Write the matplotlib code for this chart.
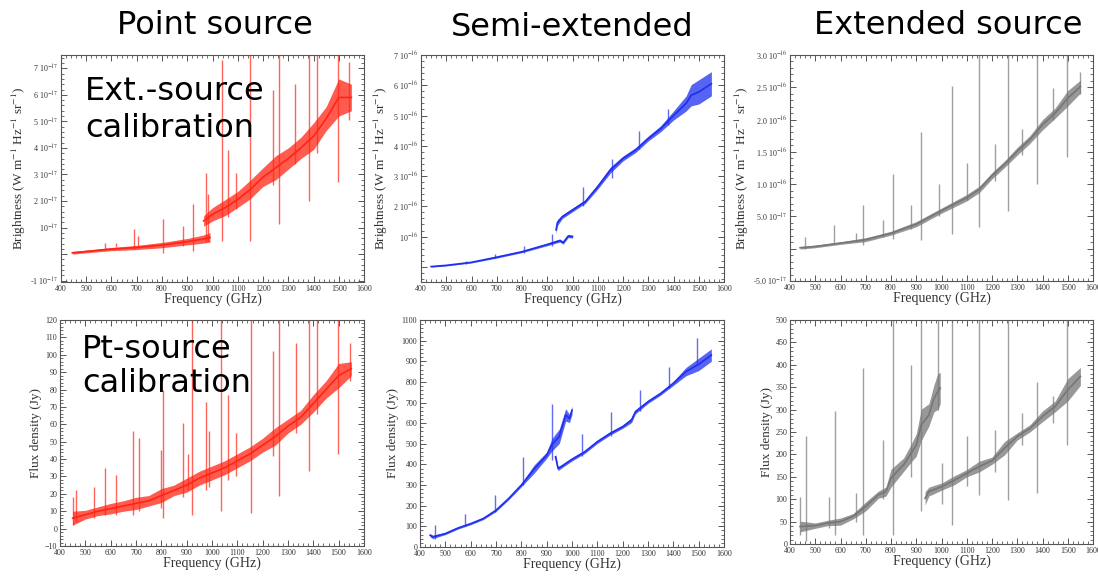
import matplotlib
matplotlib.use("Agg")
import matplotlib.pyplot as plt
from matplotlib.ticker import AutoMinorLocator, FixedLocator, FixedFormatter

plt.rcParams["font.family"] = ["Liberation Serif", "DejaVu Serif"]
plt.rcParams["mathtext.fontset"] = "stix"

RED = "#ff2414"
BLUE = "#1f2ff0"
GRAY = "#767676"

# ---------------- Point source, brightness (units 1e-17) ----------------
pb_f1 = [445, 500, 600, 700, 800, 900, 960, 990]
pb_v1 = [0.05, 0.10, 0.19, 0.25, 0.34, 0.47, 0.56, 0.63]
pb_w1 = [0.05, 0.05, 0.06, 0.08, 0.10, 0.12, 0.15, 0.18]
pb_f2 = [965, 1000, 1050, 1100, 1150, 1200, 1250, 1300, 1350, 1400, 1450, 1500, 1550]
pb_v2 = [1.25, 1.50, 1.75, 2.06, 2.44, 2.90, 3.25, 3.60, 4.00, 4.44, 5.10, 5.90, 5.90]
pb_w2 = [0.20, 0.25, 0.30, 0.30, 0.35, 0.35, 0.45, 0.40, 0.40, 0.50, 0.45, 0.70, 0.50]
pb_sf = [574, 618, 689, 706, 805, 884, 921, 973, 983, 1036, 1062, 1095,
         1150, 1240, 1264, 1326, 1383, 1414, 1497, 1541]
pb_top = [0.41, 0.43, 0.94, 0.69, 1.31, 1.06, 1.87, 3.06, 2.25, 7.30, 3.94, 3.06,
          7.60, 6.20, 7.60, 6.40, 7.60, 7.60, 7.60, 7.25]
pb_bot = [0.20, 0.25, 0.20, 0.25, 0.05, 0.30, 0.12, 0.45, 0.50, 0.50, 1.40, 1.70,
          0.50, 2.60, 1.12, 3.40, 2.00, 3.80, 2.70, 5.06]

# ---------------- Semi-extended, brightness (units 1e-16) ----------------
sb_f1 = [440, 500, 600, 700, 800, 900, 950, 963, 983, 1000]
sb_v1 = [0.01, 0.05, 0.15, 0.32, 0.50, 0.74, 0.87, 0.80, 1.02, 1.00]
sb_w1 = [0.02, 0.02, 0.02, 0.03, 0.03, 0.04, 0.05, 0.05, 0.05, 0.05]
sb_f2 = [935, 940, 960, 1000, 1040, 1050, 1100, 1150, 1200, 1250, 1300,
         1350, 1400, 1450, 1470, 1500, 1550]
sb_v2 = [1.22, 1.46, 1.66, 1.88, 2.10, 2.15, 2.65, 3.20, 3.58, 3.86, 4.24,
         4.57, 5.00, 5.40, 5.67, 5.78, 6.05]
sb_w2 = [0.12, 0.10, 0.06, 0.06, 0.06, 0.06, 0.08, 0.10, 0.08, 0.08, 0.08,
         0.10, 0.15, 0.25, 0.35, 0.40, 0.40]
sb_sf = [580, 695, 808, 920, 1040, 1155, 1265, 1380]
sb_top = [0.18, 0.42, 0.69, 1.07, 2.65, 3.58, 4.50, 5.20]
sb_bot = [0.10, 0.28, 0.45, 0.70, 2.00, 2.95, 3.90, 4.70]

# ---------------- Extended source, brightness (units 1e-16) ----------------
eb_f = [440, 500, 600, 700, 800, 900, 1000, 1100, 1150, 1200, 1250, 1300,
        1350, 1400, 1450, 1500, 1550]
eb_v = [0.015, 0.035, 0.087, 0.14, 0.24, 0.38, 0.59, 0.79, 0.92, 1.13, 1.31,
        1.51, 1.69, 1.92, 2.10, 2.33, 2.51]
eb_w = [0.02, 0.02, 0.02, 0.03, 0.03, 0.04, 0.04, 0.05, 0.05, 0.05, 0.05,
        0.06, 0.06, 0.08, 0.08, 0.12, 0.10]
eb_sf = [460, 575, 660, 690, 770, 808, 880, 920, 990, 1040, 1100, 1150,
         1210, 1265, 1320, 1380, 1440, 1497, 1550]
eb_top = [0.18, 0.37, 0.24, 0.68, 0.44, 1.15, 0.67, 1.81, 1.00, 2.52, 1.33,
          3.05, 1.62, 3.05, 1.86, 3.05, 2.49, 3.05, 2.74]
eb_bot = [0.00, 0.07, 0.10, 0.05, 0.18, 0.15, 0.30, 0.13, 0.50, 0.23, 0.75,
          0.34, 1.05, 0.59, 1.45, 1.00, 2.00, 1.42, 2.40]

# ---------------- Point source, flux density (Jy) ----------------
pf_f = [450, 500, 550, 600, 650, 700, 750, 800, 850, 900, 950, 1000, 1050,
        1100, 1150, 1200, 1250, 1300, 1350, 1400, 1450, 1500, 1550]
pf_v = [6, 8, 10, 11.5, 13, 14.5, 16, 19, 22, 25, 29, 32, 35, 39, 43, 48,
        53, 59, 64, 72, 80, 88, 92]
pf_w = [4, 2.5, 2.5, 3, 3, 3.5, 3, 4, 3, 4, 4, 4, 4, 4, 4, 4, 5, 4, 4, 5, 5, 7, 4]
pf_sf = [452, 462, 533, 577, 620, 690, 710, 800, 808, 885, 905, 922, 975,
         990, 1036, 1062, 1095, 1152, 1240, 1265, 1330, 1383, 1415, 1497, 1545]
pf_top = [18, 22, 24, 35, 31, 56, 52, 45, 80, 61, 43, 122, 73, 56, 122, 77,
          55, 122, 102, 122, 107, 122, 122, 122, 107]
pf_bot = [2, 4, 6, 8, 8, 8, 10, 12, 6, 18, 22, 8, 22, 24, 10, 28, 30, 9, 42,
          19, 55, 33, 66, 43, 85]

# ---------------- Semi-extended, flux density (Jy) ----------------
sf_f1 = [440, 450, 500, 550, 600, 650, 700, 750, 800, 850, 900, 920, 950,
         975, 990, 1000]
sf_v1 = [57, 49, 65, 92, 113, 138, 178, 235, 300, 377, 445, 494, 537, 640,
         623, 663]
sf_w1 = [8, 8, 5, 5, 5, 5, 6, 6, 8, 20, 15, 30, 35, 30, 20, 20]
sf_f2 = [935, 945, 960, 1000, 1050, 1100, 1150, 1200, 1235, 1250, 1300,
         1350, 1400, 1450, 1500, 1550]
sf_v2 = [437, 380, 392, 425, 461, 510, 550, 583, 615, 655, 704, 744, 793,
         850, 885, 930]
sf_w2 = [15, 10, 8, 8, 8, 8, 8, 8, 12, 10, 8, 8, 10, 20, 30, 30]
sf_sf = [460, 577, 695, 808, 922, 1040, 1155, 1268, 1383, 1495]
sf_top = [105, 162, 251, 437, 693, 550, 655, 760, 874, 1015]
sf_bot = [40, 100, 170, 300, 420, 440, 540, 660, 770, 880]

# ---------------- Extended source, flux density (Jy) ----------------
ef_f1 = [440, 500, 550, 600, 650, 700, 750, 780, 800, 850, 880, 900, 920,
         950, 970, 985, 995]
ef_v1 = [39, 41, 47, 50, 62, 84, 110, 117, 147, 177, 203, 221, 266, 288,
         325, 340, 348]
ef_w1 = [12, 6, 6, 8, 6, 10, 8, 10, 20, 15, 20, 25, 35, 25, 30, 40, 35]
ef_f2 = [935, 950, 1000, 1050, 1100, 1150, 1200, 1250, 1300, 1350, 1400,
         1450, 1500, 1550]
ef_v2 = [102, 117, 128, 142, 158, 173, 186, 214, 240, 258, 285, 307, 344, 374]
ef_w2 = [15, 10, 8, 10, 8, 12, 8, 15, 8, 8, 12, 12, 25, 20]
ef_sf = [440, 462, 555, 578, 662, 690, 770, 808, 880, 920, 985, 1000, 1040,
         1100, 1150, 1210, 1265, 1320, 1380, 1440, 1497]
ef_top = [104, 240, 104, 297, 114, 392, 233, 505, 400, 505, 505, 180, 505,
          240, 505, 255, 505, 292, 362, 330, 505]
ef_bot = [20, 6, 35, 20, 50, 21, 100, 21, 150, 73, 300, 90, 43, 130, 110,
          160, 99, 220, 114, 270, 221]

# ---------------- tick labels ----------------
pb_ticks = [-1, 0, 1, 2, 3, 4, 5, 6, 7]
pb_labels = ["-1 10$^{-17}$", "", "10$^{-17}$", "2 10$^{-17}$", "3 10$^{-17}$",
             "4 10$^{-17}$", "5 10$^{-17}$", "6 10$^{-17}$", "7 10$^{-17}$"]
sb_ticks = [0, 1, 2, 3, 4, 5, 6, 7]
sb_labels = ["", "10$^{-16}$", "2 10$^{-16}$", "3 10$^{-16}$", "4 10$^{-16}$",
             "5 10$^{-16}$", "6 10$^{-16}$", "7 10$^{-16}$"]
eb_ticks = [-0.5, 0, 0.5, 1.0, 1.5, 2.0, 2.5, 3.0]
eb_labels = ["-5.0 10$^{-17}$", "", "5.0 10$^{-17}$", "1.0 10$^{-16}$",
             "1.5 10$^{-16}$", "2.0 10$^{-16}$", "2.5 10$^{-16}$", "3.0 10$^{-16}$"]

BRIGHT_LABEL = "Brightness (W m$^{-1}$ Hz$^{-1}$ sr$^{-1}$)"
FLUX_LABEL = "Flux density (Jy)"

W, H = 1098, 578


def px_axes(fig, left, top, right, bottom):
    return fig.add_axes([left / W, 1 - bottom / H, (right - left) / W, (bottom - top) / H])


def spectrum(ax, f, v, w, color):
    lo = [a - b for a, b in zip(v, w)]
    hi = [a + b for a, b in zip(v, w)]
    ax.fill_between(f, lo, hi, color=color, alpha=0.75, lw=0)
    ax.plot(f, v, color=color, lw=1.2)


def spikes(ax, f, top, bot, color):
    ax.vlines(f, bot, top, color=color, lw=1.0, alpha=0.7)


def style(ax, ylim, ylabel, yticks=None, ylabels=None, ystep=None):
    ax.set_xlim(400, 1600)
    ax.set_ylim(*ylim)
    ax.set_xticks(range(400, 1601, 100))
    ax.xaxis.set_minor_locator(AutoMinorLocator(5))
    if yticks is not None:
        ax.yaxis.set_major_locator(FixedLocator(yticks))
        ax.yaxis.set_major_formatter(FixedFormatter(ylabels))
    else:
        ax.set_yticks(range(int(ylim[0]), int(ylim[1]) + 1, ystep))
    ax.yaxis.set_minor_locator(AutoMinorLocator(5))
    ax.tick_params(which="both", direction="in", top=True, right=True,
                   labelsize=5.8, colors="#555555", labelcolor="#333333", pad=2)
    ax.tick_params(which="major", length=4, width=0.7)
    ax.tick_params(which="minor", length=2, width=0.6)
    for s in ax.spines.values():
        s.set_color("#555555")
        s.set_linewidth(0.8)
    ax.set_xlabel("Frequency (GHz)", fontsize=10, color="#333333", labelpad=0)
    ax.set_ylabel(ylabel, fontsize=9.5, color="#333333", labelpad=2)


fig = plt.figure(figsize=(W / 100, H / 100), dpi=100)

ax = px_axes(fig, 61, 55, 364, 282)
spectrum(ax, pb_f1, pb_v1, pb_w1, RED)
spectrum(ax, pb_f2, pb_v2, pb_w2, RED)
spikes(ax, pb_sf, pb_top, pb_bot, RED)
style(ax, (-1.05, 7.5), BRIGHT_LABEL, pb_ticks, pb_labels)

ax = px_axes(fig, 421, 55, 724, 282)
spectrum(ax, sb_f1, sb_v1, sb_w1, BLUE)
spectrum(ax, sb_f2, sb_v2, sb_w2, BLUE)
spikes(ax, sb_sf, sb_top, sb_bot, BLUE)
style(ax, (-0.5, 7.0), BRIGHT_LABEL, sb_ticks, sb_labels)

ax = px_axes(fig, 790, 55, 1093, 281)
spectrum(ax, eb_f, eb_v, eb_w, GRAY)
spikes(ax, eb_sf, eb_top, eb_bot, GRAY)
style(ax, (-0.5, 3.0), BRIGHT_LABEL, eb_ticks, eb_labels)

ax = px_axes(fig, 60, 320, 364, 546)
spectrum(ax, pf_f, pf_v, pf_w, RED)
spikes(ax, pf_sf, pf_top, pf_bot, RED)
style(ax, (-10, 120), FLUX_LABEL, ystep=10)

ax = px_axes(fig, 420, 320, 724, 547)
spectrum(ax, sf_f1, sf_v1, sf_w1, BLUE)
spectrum(ax, sf_f2, sf_v2, sf_w2, BLUE)
spikes(ax, sf_sf, sf_top, sf_bot, BLUE)
style(ax, (0, 1100), FLUX_LABEL, ystep=100)

ax = px_axes(fig, 790, 320, 1093, 544)
spectrum(ax, ef_f1, ef_v1, ef_w1, GRAY)
spectrum(ax, ef_f2, ef_v2, ef_w2, GRAY)
spikes(ax, ef_sf, ef_top, ef_bot, GRAY)
style(ax, (0, 500), FLUX_LABEL, ystep=50)

# column titles and row annotations
sans = ["DejaVu Sans"]
fig.text(215 / W, 1 - 25 / H, "Point source", fontsize=23, family=sans,
         ha="center", va="center")
fig.text(572 / W, 1 - 27 / H, "Semi-extended", fontsize=23, family=sans,
         ha="center", va="center")
fig.text(948 / W, 1 - 25 / H, "Extended source", fontsize=23, family=sans,
         ha="center", va="center")
fig.text(85 / W, 1 - 92 / H, "Ext.-source", fontsize=23,
         family=sans, ha="left", va="center")
fig.text(85 / W, 1 - 128 / H, "calibration", fontsize=23,
         family=sans, ha="left", va="center")
fig.text(82 / W, 1 - 349 / H, "Pt-source", fontsize=23,
         family=sans, ha="left", va="center")
fig.text(82 / W, 1 - 384 / H, "calibration", fontsize=23,
         family=sans, ha="left", va="center")

fig.savefig("out.png", dpi=100)
